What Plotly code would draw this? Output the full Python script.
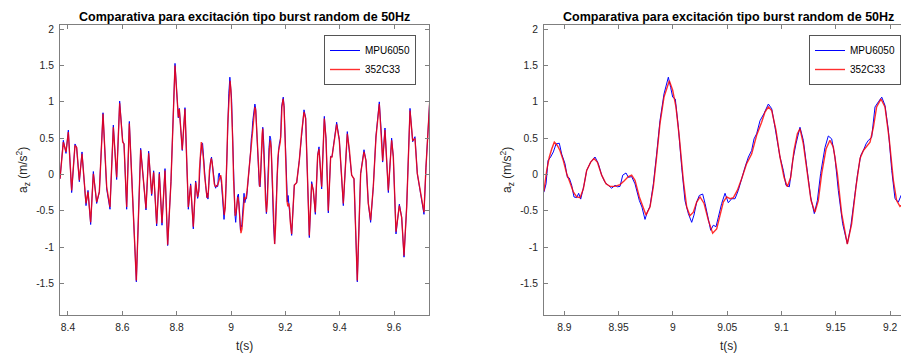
import plotly.graph_objects as go

# ---------------- data ----------------
# shared part before the zoomed window (t in s, acceleration in m/s^2)
t_pre = [8.3706, 8.3829, 8.3927, 8.4013, 8.4135, 8.4258, 8.4319, 8.4418, 8.4516, 8.4663,
         8.4737, 8.4835, 8.4933, 8.5056, 8.5154, 8.5289, 8.5424, 8.5546, 8.5669, 8.5792,
         8.5902, 8.6013, 8.6062, 8.6160, 8.6258, 8.6381, 8.6516, 8.6675, 8.6871, 8.6969,
         8.7080, 8.7153, 8.7264, 8.7362, 8.7460, 8.7571, 8.7669, 8.7791, 8.7939, 8.8061,
         8.8098, 8.8206, 8.8306, 8.8429, 8.8515, 8.8613, 8.8699, 8.8773]
a_pre_pcb = [-0.06, 0.445, 0.31, 0.583, -0.22, 0.40, 0.37, -0.08, 0.285, -0.40,
             -0.24, -0.66, 0.01, -0.38, -0.24, 0.836, -0.17, -0.45, 0.65, -0.04,
             0.98, 0.445, 0.42, -0.45, 0.70, -0.40, -1.46, 0.34, -0.47, 0.29,
             -0.27, 0.03, -0.68, 0.01, -0.67, 0.055, -0.97, -0.10, 1.50, 0.79,
             0.90, 0.34, 0.90, -0.45, -0.15, -0.72, -0.11, -0.31]
a_pre_mpu = [-0.06, 0.47, 0.29, 0.61, -0.25, 0.42, 0.37, -0.10, 0.31, -0.43,
             -0.22, -0.69, 0.04, -0.40, -0.24, 0.85, -0.20, -0.48, 0.68, -0.07,
             1.01, 0.46, 0.42, -0.48, 0.73, -0.40, -1.48, 0.36, -0.49, 0.32,
             -0.29, 0.05, -0.71, 0.03, -0.70, 0.08, -0.98, -0.10, 1.53, 0.78,
             0.91, 0.33, 0.92, -0.48, -0.13, -0.75, -0.09, -0.33]

# zoomed window, MPU6050
t_zoom_mpu = [8.8813, 8.8832, 8.8850, 8.8874, 8.8899, 8.8924, 8.8954, 8.8976, 8.9006, 8.9028,
              8.9046, 8.9068, 8.9089, 8.9114, 8.9132, 8.9151, 8.9181, 8.9206, 8.9243, 8.9283,
              8.9313, 8.9344, 8.9375, 8.9405, 8.9436, 8.9467, 8.9489, 8.9513, 8.9538, 8.9568,
              8.9590, 8.9620, 8.9651, 8.9691, 8.9715, 8.9743, 8.9764, 8.9789, 8.9820, 8.9850,
              8.9881, 8.9918, 8.9958, 8.9979, 8.9998, 9.0022, 9.0050, 9.0081, 9.0111, 9.0142,
              9.0173, 9.0194, 9.0219, 9.0243, 9.0274, 9.0296, 9.0326, 9.0348, 9.0372, 9.0397,
              9.0418, 9.0449, 9.0480, 9.0510, 9.0541, 9.0572, 9.0602, 9.0633, 9.0664, 9.0695,
              9.0725, 9.0747, 9.0771, 9.0802, 9.0839, 9.0879, 9.0910, 9.0940, 9.0986, 9.1017,
              9.1041, 9.1072, 9.1103, 9.1133, 9.1170, 9.1201, 9.1232, 9.1268, 9.1302, 9.1330,
              9.1360, 9.1400, 9.1431, 9.1462, 9.1492, 9.1523, 9.1563, 9.1606, 9.1637, 9.1668,
              9.1699, 9.1729, 9.1754, 9.1778, 9.1800, 9.1830, 9.1861, 9.1892, 9.1923, 9.1953,
              9.1984, 9.2015, 9.2045, 9.2076, 9.2101, 9.2128, 9.2153, 9.2183]
a_zoom_mpu = [-0.24, -0.13, 0.19, 0.24, 0.31, 0.42, 0.43, 0.28, 0.15, -0.04,
              -0.05, -0.15, -0.31, -0.32, -0.26, -0.34, -0.15, 0.055, 0.17, 0.24,
              0.15, -0.01, -0.11, -0.15, -0.19, -0.15, -0.17, -0.165, -0.01, 0.02,
              -0.04, -0.03, -0.13, -0.36, -0.45, -0.62, -0.52, -0.44, -0.13, 0.28,
              0.74, 1.11, 1.34, 1.20, 1.065, 1.04, 0.65, 0.10, -0.36, -0.54,
              -0.66, -0.56, -0.38, -0.29, -0.27, -0.40, -0.59, -0.77, -0.70, -0.72,
              -0.59, -0.40, -0.26, -0.39, -0.335, -0.335, -0.22, -0.04, 0.10, 0.24,
              0.33, 0.49, 0.56, 0.74, 0.84, 0.97, 0.905, 0.65, 0.24, 0.055,
              -0.15, -0.17, 0.19, 0.42, 0.65, 0.47, 0.10, -0.31, -0.54, -0.36,
              0.01, 0.37, 0.53, 0.49, 0.24, -0.22, -0.68, -0.955, -0.725, -0.36,
              -0.01, 0.26, 0.33, 0.42, 0.47, 0.51, 0.93, 1.0, 1.065, 0.95,
              0.61, 0.055, -0.335, -0.38, -0.29, -0.40, -0.45, -0.61]

# zoomed window, 352C33
t_zoom_pcb = [8.8813, 8.8838, 8.8862, 8.8884, 8.8908, 8.8936, 8.8960, 8.8991, 8.9022, 8.9052,
              8.9083, 8.9114, 8.9145, 8.9175, 8.9206, 8.9243, 8.9273, 8.9304, 8.9344, 8.9384,
              8.9421, 8.9467, 8.9513, 8.9550, 8.9590, 8.9620, 8.9651, 8.9691, 8.9728, 8.9752,
              8.9789, 8.9820, 8.9850, 8.9881, 8.9918, 8.9967, 8.9998, 9.0028, 9.0059, 9.0096,
              9.0127, 9.0157, 9.0188, 9.0219, 9.0250, 9.0287, 9.0326, 9.0366, 9.0403, 9.0434,
              9.0464, 9.0495, 9.0526, 9.0557, 9.0593, 9.0633, 9.0679, 9.0725, 9.0771, 9.0817,
              9.0848, 9.0879, 9.0910, 9.0949, 9.0986, 9.1023, 9.1054, 9.1085, 9.1115, 9.1146,
              9.1170, 9.1201, 9.1238, 9.1272, 9.1308, 9.1339, 9.1370, 9.1410, 9.1446, 9.1477,
              9.1514, 9.1554, 9.1606, 9.1646, 9.1686, 9.1723, 9.1754, 9.1778, 9.1815, 9.1846,
              9.1876, 9.1916, 9.1953, 9.1993, 9.2030, 9.2060, 9.2091, 9.2128, 9.2158, 9.2183]
a_zoom_pcb = [-0.22, 0.055, 0.24, 0.35, 0.445, 0.40, 0.33, 0.19, 0.01, -0.11,
              -0.24, -0.31, -0.32, -0.20, 0.055, 0.17, 0.22, 0.17, -0.01, -0.13,
              -0.165, -0.165, -0.14, -0.09, -0.03, -0.01, -0.08, -0.31, -0.47, -0.56,
              -0.45, -0.17, 0.24, 0.70, 1.065, 1.29, 1.16, 0.93, 0.51, -0.08,
              -0.45, -0.57, -0.52, -0.38, -0.31, -0.40, -0.63, -0.81, -0.75, -0.58,
              -0.38, -0.31, -0.335, -0.32, -0.22, -0.06, 0.15, 0.28, 0.54, 0.72,
              0.86, 0.93, 0.88, 0.61, 0.24, -0.04, -0.17, -0.04, 0.33, 0.56,
              0.63, 0.42, 0.01, -0.36, -0.52, -0.36, 0.01, 0.35, 0.47, 0.38,
              0.01, -0.54, -0.96, -0.68, -0.17, 0.22, 0.33, 0.38, 0.445, 0.65,
              0.93, 1.04, 0.93, 0.47, -0.08, -0.36, -0.44, -0.40, -0.47, -0.66]

# shared part after the zoomed window
t_post = [9.2233, 9.2331, 9.2417, 9.2515, 9.2601, 9.2687, 9.2748, 9.2846, 9.2883, 9.2969,
          9.3030, 9.3104, 9.3190, 9.3239, 9.3337, 9.3435, 9.3497, 9.3582, 9.3668, 9.3717,
          9.3791, 9.3889, 9.3987, 9.4134, 9.4281, 9.4355, 9.4441, 9.4527, 9.4649, 9.4772,
          9.4895, 9.4968, 9.5054, 9.5140, 9.5238, 9.5336, 9.5459, 9.5545, 9.5582, 9.5668,
          9.5791, 9.5913, 9.5975, 9.6073, 9.6196, 9.6282, 9.6368, 9.6466, 9.6589, 9.6687,
          9.6772, 9.6858, 9.6956, 9.7054, 9.7103, 9.7177, 9.7263, 9.7324]
a_post_pcb = [-0.82, -0.15, -0.11, 0.19, 0.58, 0.86, 0.77, -0.63, -0.84, -0.13,
              -0.22, -0.52, 0.26, 0.35, -0.17, 0.77, 0.49, -0.50, 0.24, 0.24,
              0.45, 0.69, 0.47, -0.40, 0.56, 0.35, -0.01, -0.06, -1.46, 0.01,
              0.31, 0.19, -0.40, -0.63, -0.17, 0.51, 0.97, 0.51, 0.19, 0.61,
              -0.22, 0.47, 0.24, -0.79, -0.43, -0.59, -1.12, -0.45, 0.88, 0.47,
              0.49, 0.01, -0.22, -0.45, -0.52, 0.10, 0.74, 1.065]
a_post_mpu = [-0.84, -0.14, -0.12, 0.20, 0.60, 0.89, 0.78, -0.64, -0.87, -0.10,
              -0.22, -0.55, 0.27, 0.38, -0.20, 0.80, 0.50, -0.53, 0.25, 0.24,
              0.46, 0.72, 0.48, -0.43, 0.59, 0.35, -0.01, -0.06, -1.48, 0.01,
              0.34, 0.19, -0.40, -0.66, -0.17, 0.53, 1.00, 0.50, 0.17, 0.64,
              -0.25, 0.50, 0.24, -0.82, -0.41, -0.59, -1.14, -0.45, 0.91, 0.45,
              0.52, 0.01, -0.22, -0.45, -0.55, 0.10, 0.76, 1.08]

series_names = ["MPU6050", "352C33"]
title_text = "Comparativa para excitación tipo burst random de 50Hz"
x_label = "t(s)"
y_label = "a<sub>z</sub> (m/s<sup>2</sup>)"
x1_ticks = [8.4, 8.6, 8.8, 9.0, 9.2, 9.4, 9.6]
x1_ticktext = ["8.4", "8.6", "8.8", "9", "9.2", "9.4", "9.6"]
x2_ticks = [8.9, 8.95, 9.0, 9.05, 9.1, 9.15, 9.2]
x2_ticktext = ["8.9", "8.95", "9", "9.05", "9.1", "9.15", "9.2"]
y_ticks = [-1.5, -1, -0.5, 0, 0.5, 1, 1.5, 2]
y_ticktext = ["-1.5", "-1", "-0.5", "0", "0.5", "1", "1.5", "2"]

t_mpu = t_pre + t_zoom_mpu + t_post
a_mpu = a_pre_mpu + a_zoom_mpu + a_post_mpu
t_pcb = t_pre + t_zoom_pcb + t_post
a_pcb = a_pre_pcb + a_zoom_pcb + a_post_pcb

# ---------------- figure ----------------
# the page body has an 8px margin, so the figure is shifted by 8px
OX, OY = 8, 8
WIN_W, WIN_H = 909, 356
W, H = WIN_W - OX, WIN_H - OY


def px(x):
    return (x - OX) / W


def py(y):
    return 1 - (y - OY) / H


FONT = "Liberation Sans, Arial, Helvetica, sans-serif"
BLUE = "#0000ff"
RED = "rgba(255,0,0,0.82)"
AX = "#7f7f7f"
TXT = "#262626"

fig = go.Figure()
for xa, ya, lg in (("x", "y", "legend"), ("x2", "y2", "legend2")):
    fig.add_trace(go.Scatter(x=t_mpu, y=a_mpu, mode="lines", name=series_names[0],
                             line=dict(color=BLUE, width=1), xaxis=xa, yaxis=ya, legend=lg))
    fig.add_trace(go.Scatter(x=t_pcb, y=a_pcb, mode="lines", name=series_names[1],
                             line=dict(color=RED, width=1.4), xaxis=xa, yaxis=ya, legend=lg))

ax_common = dict(showgrid=False, zeroline=False, showline=True, linecolor=AX, linewidth=1,
                 ticks="inside", ticklen=4, tickcolor=AX, tickwidth=1,
                 tickfont=dict(family=FONT, size=10.3, color=TXT))

y_dom = [py(315), py(24.5)]
y_rng = [-1.937, 2.066]

fig.update_layout(
    width=W, height=H, margin=dict(l=0, r=0, t=0, b=0),
    paper_bgcolor="white", plot_bgcolor="white",
    font=dict(family=FONT, color=TXT),
    xaxis=dict(domain=[px(60), px(429)], range=[8.3706, 9.7288], tickvals=x1_ticks,
               ticktext=x1_ticktext, mirror="ticks", anchor="y", ticklabelstandoff=3, **ax_common),
    yaxis=dict(domain=y_dom, range=y_rng, tickvals=y_ticks, ticktext=y_ticktext,
               mirror="ticks", anchor="x", ticklabelstandoff=3, **ax_common),
    xaxis2=dict(domain=[px(544), 1.0], range=[8.8813, 8.8813 + (WIN_W - 544) / 1086.0],
                tickvals=x2_ticks, ticktext=x2_ticktext, mirror="ticks", anchor="y2",
                ticklabelstandoff=3, **ax_common),
    yaxis2=dict(domain=y_dom, range=y_rng, tickvals=y_ticks, ticktext=y_ticktext,
                mirror=False, anchor="x2", ticklabelstandoff=3, **ax_common),
    legend=dict(x=px(324), y=py(35), xanchor="left", yanchor="top",
                bgcolor="white", bordercolor="#555555", borderwidth=1,
                font=dict(family=FONT, size=10, color="black")),
    legend2=dict(x=px(809), y=py(35), xanchor="left", yanchor="top",
                 bgcolor="white", bordercolor="#555555", borderwidth=1,
                 font=dict(family=FONT, size=10, color="black")),
    showlegend=True,
)

annos = []
for cx, ylx in ((244.5, 23), (728.5, 507)):
    annos.append(dict(text="<b>" + title_text + "</b>", x=px(cx), y=py(9),
                      xref="paper", yref="paper", xanchor="center", yanchor="top",
                      borderpad=0, showarrow=False,
                      font=dict(family=FONT, size=12.5, color="black")))
    annos.append(dict(text=x_label, x=px(cx), y=py(345.5), xref="paper", yref="paper",
                      xanchor="center", yanchor="middle", showarrow=False,
                      font=dict(family=FONT, size=12, color=TXT)))
    annos.append(dict(text=y_label, x=px(ylx), y=py(170), xref="paper", yref="paper",
                      xanchor="center", yanchor="middle", textangle=-90, showarrow=False,
                      font=dict(family=FONT, size=12, color=TXT)))
fig.update_layout(annotations=annos)

fig.write_html("out.html")
